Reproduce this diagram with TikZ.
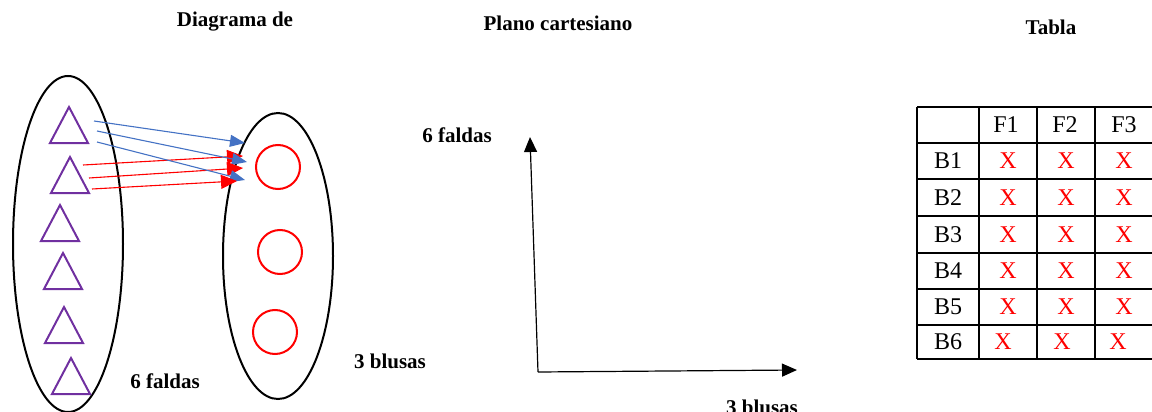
\documentclass[tikz,border=0pt]{standalone}
\usepackage{fontspec}
\setmainfont{Liberation Serif}
\usetikzlibrary{arrows.meta}

\definecolor{setpurple}{RGB}{112,48,160}
\definecolor{arrowblue}{RGB}{68,114,196}

\tikzset{
    label/.style={font=\fontsize{21}{24}\selectfont\bfseries, anchor=base, inner sep=0pt},
    cell/.style={font=\fontsize{24}{28}\selectfont, inner sep=0pt},
    setline/.style={line width=2pt},
    tri/.style={draw=setpurple, line width=2pt, line join=miter},
    dot/.style={circle, draw=red, line width=2pt, minimum size=44pt, inner sep=0pt},
    bluearrow/.style={arrowblue, line width=1.1pt, -{Triangle[length=15pt,width=12pt]}},
    redarrow/.style={red, line width=1.1pt, -{Triangle[length=16pt,width=14pt]}},
    axis/.style={black, line width=1.2pt, -{Triangle[length=15pt,width=13pt]}}
}

\begin{document}
\begin{tikzpicture}[x=1pt, y=-1pt]
    \useasboundingbox (0,0) rectangle (1152,412);
    \clip (0,0) rectangle (1152,412);

    % Titles
    \node[label] (tdiag) at (235,27) {Diagrama de};
    \node[label] (tplano) at (558,31) {Plano cartesiano};
    \node[label] (ttabla) at (1051,35) {Tabla};

    % Sets (ellipses)
    \draw[setline] (68,244) ellipse [x radius=55pt, y radius=168pt];
    \draw[setline] (278,256) ellipse [x radius=55pt, y radius=143pt];

    % Skirts (triangles)
    \foreach \cx/\ty in {69/107, 70/157, 60/205, 63/253, 64/307, 71/358}
        \draw[tri] (\cx,\ty) -- ++(19,36) -- ++(-38,0) -- cycle;

    % Blouses (circles)
    \node[dot] (c1) at (278,167) {};
    \node[dot] (c2) at (280,252) {};
    \node[dot] (c3) at (275,332) {};

    % Arrow ends
    \coordinate (bs1) at (94,121);  \coordinate (be1) at (245,143);
    \coordinate (bs2) at (97,131);  \coordinate (be2) at (247,162);
    \coordinate (bs3) at (97,142);  \coordinate (be3) at (245,180);
    \coordinate (rs1) at (83,165);  \coordinate (re1) at (243,156);
    \coordinate (rs2) at (89,178);  \coordinate (re2) at (243,168);
    \coordinate (rs3) at (92,189);  \coordinate (re3) at (237,181);

    % Arrows
    \foreach \i in {1,2,3} {
        \draw[bluearrow] (bs\i) -- (be\i);
        \draw[redarrow] (rs\i) -- (re\i);
    }

    % Set labels
    \node[label] (lfaldas) at (165,388) {6 faldas};
    \node[label] (lblusas) at (390,368) {3 blusas};

    % Cartesian plane
    \coordinate (O) at (538,372);
    \coordinate (ytip) at (530,137);
    \coordinate (xtip) at (797,370);
    \draw[axis] (O) -- (ytip);
    \draw[axis] (O) -- (xtip);
    \node[label] (yfaldas) at (457,142) {6 faldas};
    \node[label] (xblusas) at (762,414) {3 blusas};

    % Table grid
    \foreach \y in {107,143,179,216,253,289,325,359}
        \draw[line width=1.8pt] (917,\y) -- (1153,\y);
    \foreach \x in {917,979,1037,1095,1153}
        \draw[line width=1.8pt] (\x,107) -- (\x,359);

    % Table header
    \node[cell] (f1) at (1006,125) {F1};
    \node[cell] (f2) at (1065,125) {F2};
    \node[cell] (f3) at (1124,125) {F3};

    % Table rows
    \foreach \r/\y in {1/161, 2/197.5, 3/234.5, 4/271, 5/307} {
        \node[cell] (b\r) at (948,\y) {B\r};
        \node[cell, red] (x\r-1) at (1008,\y) {X};
        \node[cell, red] (x\r-2) at (1066,\y) {X};
        \node[cell, red] (x\r-3) at (1124,\y) {X};
    }
    \node[cell] (b6) at (948,342) {B6};
    \node[cell, red] (x6-1) at (1003,342) {X};
    \node[cell, red] (x6-2) at (1062,342) {X};
    \node[cell, red] (x6-3) at (1118,342) {X};
\end{tikzpicture}
\end{document}
